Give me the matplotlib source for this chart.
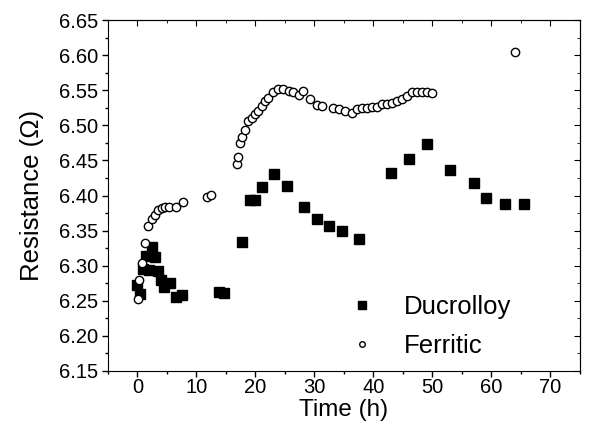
import matplotlib
matplotlib.use("Agg")
import matplotlib.pyplot as plt
from matplotlib.ticker import MultipleLocator, FormatStrFormatter

plt.rcParams['font.family'] = ['Liberation Sans', 'DejaVu Sans']

# Ducrolloy (filled squares)
duc_time = [0, 0.4, 1.0, 1.5, 2.0, 2.5, 3.0, 3.5, 4.0, 4.5, 5.5, 6.5, 7.5,
            13.8, 14.6, 17.8, 19.0, 20.0, 21.1, 23.2, 25.3, 28.3, 30.4,
            32.5, 34.6, 37.6, 42.9, 46.0, 49.1, 53.0, 57.0, 59.1, 62.3, 65.5]
duc_res = [6.272, 6.260, 6.295, 6.314, 6.294, 6.326, 6.312, 6.292, 6.280, 6.270,
           6.275, 6.256, 6.259,
           6.262, 6.261, 6.334, 6.393, 6.394, 6.412, 6.431, 6.414, 6.384, 6.366,
           6.357, 6.350, 6.338, 6.432, 6.452, 6.474, 6.437, 6.418, 6.396, 6.388, 6.388]

# Ferritic (open circles)
fer_time = [0.1, 0.3, 0.7, 1.25, 1.8, 2.4, 2.9, 3.5, 4.1, 4.6, 5.4, 6.5, 7.8,
            11.7, 12.4,
            16.8, 17.1, 17.4, 17.7, 18.2, 18.8, 19.4, 20.0, 20.5, 21.1, 21.6, 22.2,
            23.0, 23.9, 24.7, 25.6, 26.4, 27.3, 28.1, 29.3, 30.4, 31.2, 33.2, 34.1,
            35.2, 36.3, 37.2, 38.0, 38.9, 39.7, 40.6, 41.4, 42.3, 43.1, 44.0, 44.8,
            45.7, 46.5, 47.4, 48.2, 49.1, 49.9, 64.0]
fer_res = [6.252, 6.280, 6.304, 6.333, 6.356, 6.367, 6.372, 6.379, 6.382, 6.383,
           6.383, 6.384, 6.391,
           6.398, 6.401,
           6.445, 6.455, 6.475, 6.484, 6.494, 6.506, 6.511, 6.516, 6.520, 6.528,
           6.535, 6.539, 6.547, 6.552, 6.552, 6.549, 6.547, 6.544, 6.549, 6.537,
           6.529, 6.527, 6.525, 6.523, 6.521, 6.518, 6.523, 6.525, 6.525, 6.526,
           6.526, 6.530, 6.531, 6.532, 6.535, 6.537, 6.542, 6.548, 6.547, 6.547,
           6.547, 6.546, 6.604]

fig = plt.figure(figsize=(5.9, 4.38), dpi=100)
ax = fig.add_axes([0.183, 0.153, 0.800, 0.801])

ax.plot(duc_time, duc_res, linestyle='none', marker='s', markersize=6.5,
        color='black', label='Ducrolloy')
ax.plot(fer_time, fer_res, linestyle='none', marker='o', markersize=6,
        markerfacecolor='white', markeredgecolor='black', markeredgewidth=1.0,
        label='Ferritic')

ax.set_xlim(-5, 75)
ax.set_ylim(6.15, 6.65)
ax.xaxis.set_major_locator(MultipleLocator(10))
ax.xaxis.set_minor_locator(MultipleLocator(5))
ax.yaxis.set_major_locator(MultipleLocator(0.05))
ax.yaxis.set_minor_locator(MultipleLocator(0.025))
ax.yaxis.set_major_formatter(FormatStrFormatter('%.2f'))

ax.tick_params(which='both', direction='out', labelsize=14.5)
ax.tick_params(axis='y', pad=3)
ax.tick_params(axis='x', pad=1)
ax.tick_params(which='major', length=4, width=1)
ax.tick_params(which='minor', length=2.5, width=1)

# inward ticks on top and right
top = ax.secondary_xaxis('top')
top.xaxis.set_major_locator(MultipleLocator(10))
top.xaxis.set_minor_locator(MultipleLocator(5))
top.tick_params(which='both', direction='in', labeltop=False)
top.tick_params(which='major', length=4)
top.tick_params(which='minor', length=2.5)
right = ax.secondary_yaxis('right')
right.yaxis.set_major_locator(MultipleLocator(0.05))
right.yaxis.set_minor_locator(MultipleLocator(0.025))
right.tick_params(which='both', direction='in', labelright=False)
right.tick_params(which='major', length=4)
right.tick_params(which='minor', length=2.5)

ax.set_xlabel('Time (h)', fontsize=17.5, labelpad=1.5)
ax.set_ylabel('Resistance (\u03a9)', fontsize=18.5, labelpad=11)

leg = ax.legend(loc='upper left', frameon=False, fontsize=18.5,
                handlelength=1.0, handletextpad=1.15, labelspacing=0.57,
                borderpad=0, borderaxespad=0,
                bbox_to_anchor=(349 / 590, 1 - 295 / 438),
                bbox_transform=fig.transFigure)
leg.legend_handles[0].set_markersize(5.5)
leg.legend_handles[1].set_markersize(4)

fig.savefig('out.png', dpi=100)
